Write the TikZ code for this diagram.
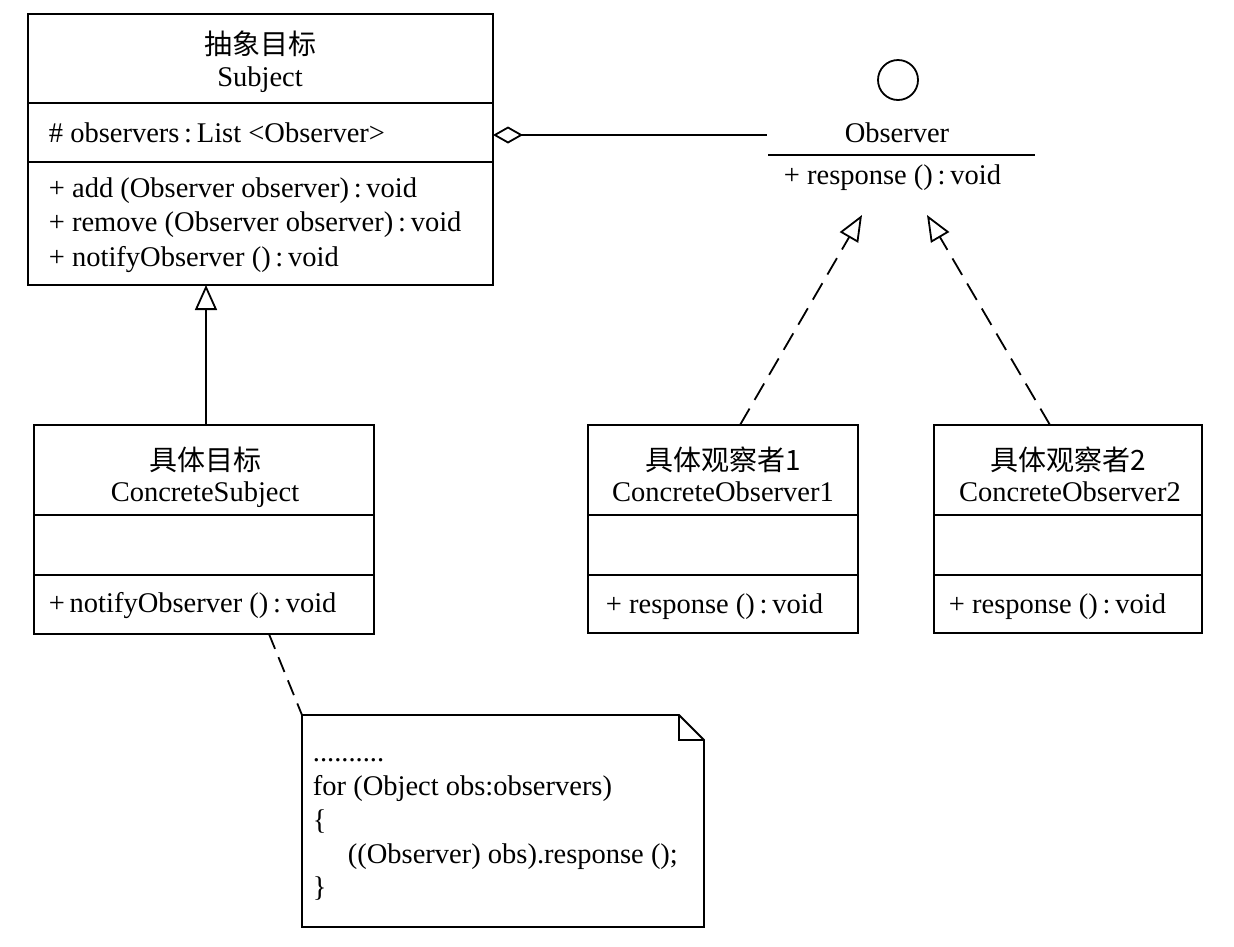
\documentclass[tikz,border=0pt]{standalone}
\usepackage{fontspec}
\setmainfont{Liberation Serif}
\newfontfamily\cjk{Noto Sans CJK SC}
\usetikzlibrary{arrows.meta}
\begin{document}
\begin{tikzpicture}[x=1pt,y=-1pt,line width=1.8pt,
  box/.style={draw,rectangle,inner sep=0pt,outer sep=0pt,anchor=north west},
  txt/.style={inner sep=0pt,font=\fontsize{28.5}{34}\selectfont},
  ltxt/.style={txt,anchor=base west},
  ctxt/.style={txt,anchor=base},
  cjktxt/.style={inner sep=0pt,anchor=center,font=\fontsize{28}{32}\cjk},
  gen/.style={-{Triangle[open,length=25pt,width=22pt]}},
  real/.style={dash pattern=on 19pt off 10pt,-{Triangle[open,length=26pt,width=21pt]}},
  agg/.style={{Diamond[open,length=30pt,width=17pt]}-},
  notelink/.style={dash pattern=on 16pt off 9pt}
]
\useasboundingbox (0,0) rectangle (1234,946);

% ---------- Subject ----------
\node[box,minimum width=465pt,minimum height=271pt] (subj) at (28,14) {};
\draw (28,103) -- (493,103);
\draw (28,162) -- (493,162);
\node[cjktxt] (subjcn) at (260,44) {抽象目标};
\node[ctxt] (subjen) at (260,86) {Subject};
\node[ltxt] (subjattr) at (48,142) {\# observers\,:\,List <Observer>};
\node[ltxt] (subjm1) at (48,197) {+ add (Observer observer)\,:\,void};
\node[ltxt] (subjm2) at (48,231) {+ remove (Observer observer)\,:\,void};
\node[ltxt] (subjm3) at (48,266) {+ notifyObserver ()\,:\,void};

% ---------- Observer interface ----------
\node[draw,circle,minimum size=40pt,inner sep=0pt] (ocirc) at (898,80) {};
\node[ctxt] (oname) at (897,142) {Observer};
\coordinate (oleft) at (767,135);
\draw (768,155) -- (1035,155);
\node[ltxt] (oresp) at (783,184) {+ response ()\,:\,void};
\coordinate (otipL) at (862,215);
\coordinate (otipR) at (927,215);

% ---------- ConcreteSubject ----------
\node[box,minimum width=340pt,minimum height=209pt] (cs) at (34,425) {};
\draw (34,515) -- (374,515);
\draw (34,575) -- (374,575);
\node[cjktxt] (cscn) at (205,460) {具体目标};
\node[ctxt] (csen) at (205,501) {ConcreteSubject};
\node[ltxt] (csm) at (48,612) {+\,notifyObserver ()\,:\,void};

% ---------- ConcreteObserver1 ----------
\node[box,minimum width=270pt,minimum height=208pt] (co1) at (588,425) {};
\draw (588,515) -- (858,515);
\draw (588,575) -- (858,575);
\node[cjktxt] (co1cn) at (723,460) {具体观察者1};
\node[ctxt] (co1en) at (723,501) {ConcreteObserver1};
\node[ltxt] (co1m) at (605,613) {+ response ()\,:\,void};

% ---------- ConcreteObserver2 ----------
\node[box,minimum width=268pt,minimum height=208pt] (co2) at (934,425) {};
\draw (934,515) -- (1202,515);
\draw (934,575) -- (1202,575);
\node[cjktxt] (co2cn) at (1068,460) {具体观察者2};
\node[ctxt] (co2en) at (1070,501) {ConcreteObserver2};
\node[ltxt] (co2m) at (948,613) {+ response ()\,:\,void};

% ---------- Note ----------
\node[inner sep=0pt,outer sep=0pt,minimum width=402pt,minimum height=212pt,anchor=north west] (note) at (302,715) {};
\draw (note.north west) -- (679,715) -- (704,740) -- (note.south east) -- (note.south west) -- cycle;
\draw[line width=1.4pt] (679,715) -- (679,740) -- (704,740);
\node[ltxt] (n0) at (312,761) {..........};
\node[ltxt] (n1) at (312,795) {for (Object obs:observers)};
\node[ltxt] (n2) at (312,829) {\{};
\node[ltxt] (n3) at (347,863) {((Observer) obs).response ();};
\node[ltxt] (n4) at (312,896) {\}};

% ---------- Connectors ----------
\draw[agg] (subj.east |- oleft) -- (oleft);
\draw[gen] (cs.north -| 206,0) -- (subj.south -| 206,0);
\draw[real] (co1.north -| 740,0) -- (otipL);
\draw[real] (co2.north -| 1050,0) -- (otipR);
\coordinate (csb) at (269,634);
\draw[notelink] (csb) -- (note.north west);
\end{tikzpicture}
\end{document}
